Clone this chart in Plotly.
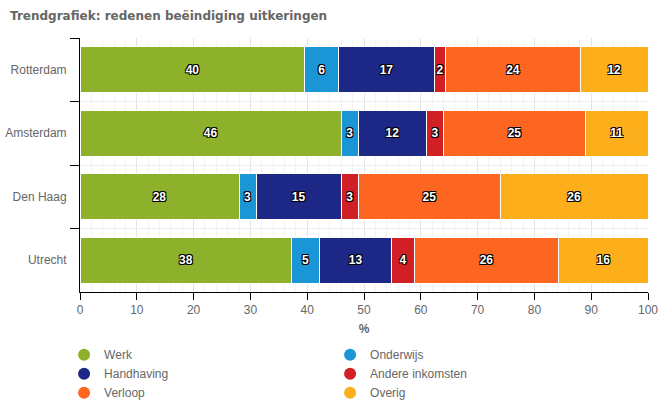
import plotly.graph_objects as go

categories = ["Rotterdam", "Amsterdam", "Den Haag", "Utrecht"]
series_names = ["Werk", "Onderwijs", "Handhaving", "Andere inkomsten", "Verloop", "Overig"]
werk = [40, 46, 28, 38]
onderwijs = [6, 3, 3, 5]
handhaving = [17, 12, 15, 13]
andere = [2, 3, 3, 4]
verloop = [24, 25, 25, 26]
overig = [12, 11, 26, 16]
series_values = [werk, onderwijs, handhaving, andere, verloop, overig]
colors = ["#8db12b", "#1a95d5", "#1d2886", "#d11f26", "#fc6621", "#fcaf1a"]
x_ticks = list(range(0, 101, 10))

outline = "-1px -1px 0 #000, 1px -1px 0 #000, -1px 1px 0 #000, 1px 1px 0 #000"

fig = go.Figure()
for name, vals, col in zip(series_names, series_values, colors):
    fig.add_trace(go.Bar(
        y=categories, x=vals, name=name, orientation="h",
        marker=dict(color=col, line=dict(color="white", width=1)),
        text=[str(v) for v in vals], textposition="inside",
        insidetextanchor="middle", textangle=0, constraintext="none",
        textfont=dict(family="Liberation Sans", size=12, color="white",
                      weight="bold", shadow=outline),
        showlegend=False, hoverinfo="x+y+name",
    ))
# legend entries with circle symbols
for name, col in zip(series_names, colors):
    fig.add_trace(go.Scatter(
        x=[None], y=[None], mode="markers", name=name,
        marker=dict(color=col, size=12, symbol="circle"), showlegend=True,
    ))

fig.update_layout(
    width=670, height=414,
    barmode="stack", barnorm="percent", bargap=0.27,
    plot_bgcolor="white", paper_bgcolor="white",
    margin=dict(l=80, r=22, t=38, b=122, autoexpand=False),
    font=dict(family="Liberation Sans", size=12, color="#666666"),
    title=dict(text="<b>Trendgrafiek: redenen beëindiging uitkeringen</b>",
               x=0.015, xref="container", xanchor="left", y=1, yref="container", yanchor="top",
               pad=dict(t=12),
               font=dict(family="DejaVu Sans", size=12, color="#666666")),
    legend=dict(orientation="h", traceorder="normal", x=-0.028, xanchor="left",
                y=-0.19, yanchor="top",
                entrywidth=221, entrywidthmode="pixels",
                font=dict(family="Liberation Sans", size=12, color="#666666"),
                tracegroupgap=0, itemwidth=30),
    xaxis=dict(range=[0, 100], tickvals=x_ticks, showline=True, linecolor="black",
               linewidth=1, ticks="outside", ticklen=7, tickcolor="black",
               showgrid=True, gridcolor="#e4e4e4", gridwidth=1, zeroline=False,
               automargin=False,
               minor=dict(dtick=2, showgrid=True, gridcolor="#f3f3f3", gridwidth=1),
               title=dict(text="<b>%</b>", standoff=8,
                          font=dict(family="Liberation Sans", size=12, color="#666666")),
               tickfont=dict(size=12, color="#666666")),
    yaxis=dict(autorange="reversed", showline=True, linecolor="black", linewidth=1,
               ticks="outside", ticklen=9, tickcolor="black", tickson="boundaries",
               showgrid=True, gridcolor="#eeeeee", ticklabelstandoff=10, automargin=False,
               tickfont=dict(size=12, color="#666666")),
)

fig.write_html("out.html", post_script="document.body.style.margin='0';",
               config={"displayModeBar": False})
